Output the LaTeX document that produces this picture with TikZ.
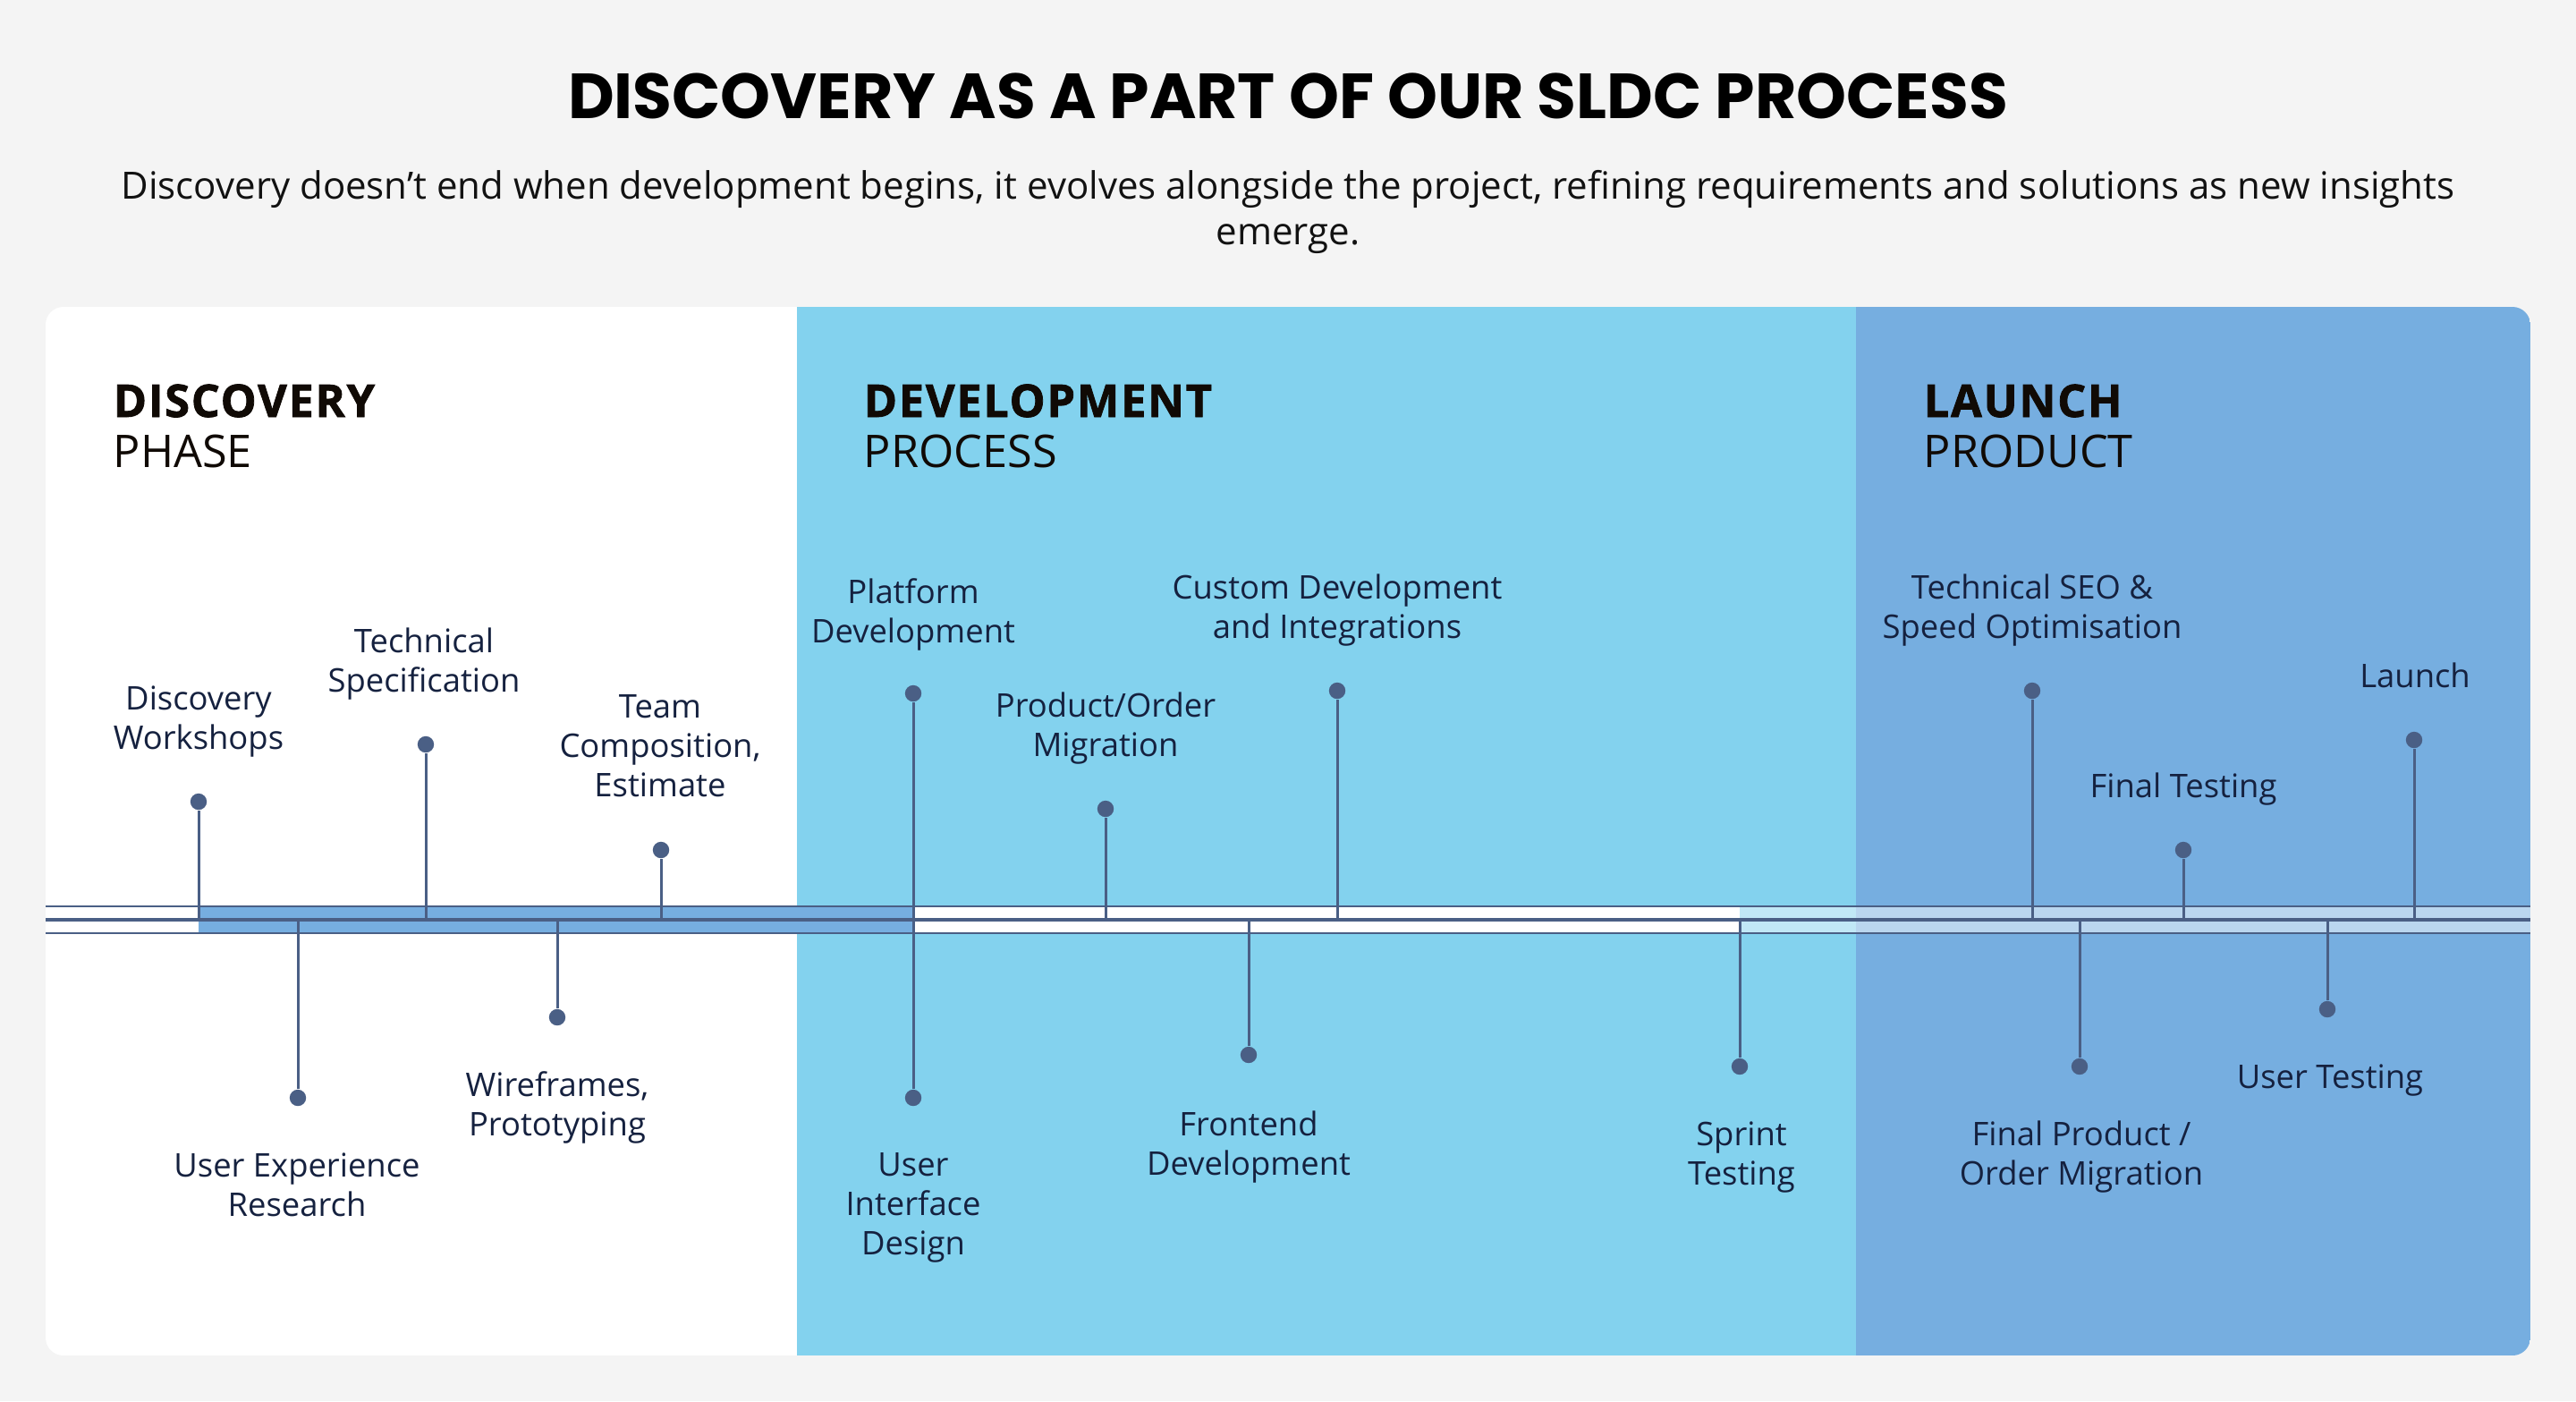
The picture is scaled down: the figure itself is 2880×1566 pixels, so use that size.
\documentclass[tikz,border=0pt]{standalone}
\usepackage{fontspec}
\setmainfont{Open Sans}
\newfontfamily\titlefont{Poppins}
\IfFontExistsTF{Open Sans ExtraBold}{\newfontfamily\xbfont{Open Sans ExtraBold}}{%
 \IfFontExistsTF{OpenSans-ExtraBold}{\newfontfamily\xbfont{OpenSans-ExtraBold}}{%
  \newfontfamily\xbfont{Open Sans Bold}[FakeBold=1.5,LetterSpace=3.5]}}
\definecolor{bgc}{HTML}{F4F4F4}
\definecolor{devc}{HTML}{83D2EE}
\definecolor{lchc}{HTML}{76AEE0}
\definecolor{bandc}{HTML}{76AEE0}
\definecolor{linec}{HTML}{4A5F85}
\definecolor{lblc}{HTML}{15213F}
\definecolor{hdrc}{HTML}{100A05}
\begin{document}
\begin{tikzpicture}[x=0.25pt,y=-0.25pt,
  lbl/.style={align=center,inner sep=0pt,text=lblc,font=\fontsize{9.1}{11}\selectfont},
  hdrb/.style={anchor=base west,inner sep=0pt,text=hdrc,font=\xbfont\fontsize{12.6}{14}\selectfont},
  hdrl/.style={anchor=base west,inner sep=0pt,text=hdrc,font=\fontsize{12.6}{14}\selectfont},
  dot/.style={circle,fill=linec,inner sep=0pt,minimum size=4.6pt},
  stem/.style={draw=linec,line width=0.75pt},
  thin/.style={draw=linec,line width=0.5pt},
  thick/.style={draw=linec,line width=1pt}]
\useasboundingbox (0,0) rectangle (2880,1566);
\fill[bgc] (0,0) rectangle (2880,1566);
% title
\node[anchor=base,inner sep=0pt,text=black,font=\titlefont\bfseries\fontsize{17.8}{20}\selectfont] (title) at (1440,132) {DISCOVERY AS A PART OF OUR SLDC PROCESS};
\node[anchor=base,inner sep=0pt,text=black!93,font=\fontsize{10.5}{12.75}\selectfont] (sub1) at (1440,222) {Discovery doesn’t end when development begins, it evolves alongside the project, refining requirements and solutions as new insights};
\node[anchor=base,inner sep=0pt,text=black!93,font=\fontsize{10.5}{12.75}\selectfont] (sub2) at (1440,273) {emerge.};
% card
\begin{scope}
\clip[rounded corners=5pt] (51,343) rectangle (2829,1515);
\fill[white] (51,343) rectangle (891,1515);
\fill[devc] (891,343) rectangle (2075,1515);
\fill[lchc] (2075,343) rectangle (2829,1515);
\fill[white] (51,1013) rectangle (1945,1043);
\fill[bandc] (222,1013) rectangle (1022,1043);
\fill[white,opacity=0.5] (1945,1013) rectangle (2829,1043);
\end{scope}
% timeline lines
\coordinate (aL) at (51,1013); \coordinate (aR) at (2829,1013);
\coordinate (bL) at (51,1028); \coordinate (bR) at (2829,1028);
\coordinate (cL) at (51,1043); \coordinate (cR) at (2829,1043);
\draw[thin] (aL) -- (aR);
\draw[thin] (cL) -- (cR);
\draw[thick] (bL) -- (bR);
% headers
\node[hdrb] (h1a) at (126,466) {DISCOVERY};
\node[hdrl] (h1b) at (126,522) {PHASE};
\node[hdrb] (h2a) at (965,466) {DEVELOPMENT};
\node[hdrl] (h2b) at (965,522) {PROCESS};
\node[hdrb] (h3a) at (2150,466) {LAUNCH};
\node[hdrl] (h3b) at (2150,522) {PRODUCT};
% top items
\foreach \n/\x/\y in {t1/222/896, t2/476/832, t3/739/950, t4/1021/775, t5/1236/904, t6/1495/772, t7/2272/772, t8/2441/950, t9/2699/827}{
  \node[dot] (d\n) at (\x,\y) {};
  \coordinate (s\n) at (\x,1028);
  \draw[stem] (d\n) -- (s\n);
}
% bottom items
\foreach \n/\x/\y in {b1/333/1227, b2/623/1137, b3/1021/1227, b4/1396/1179, b5/1945/1192, b6/2325/1192, b7/2602/1128}{
  \node[dot] (d\n) at (\x,\y) {};
  \coordinate (s\n) at (\x,1028);
  \draw[stem] (s\n) -- (d\n);
}
% labels
\node[lbl] (lt1) at (222,806) {Discovery\\Workshops};
\node[lbl] (lt2) at (474,742) {Technical\\Specification};
\node[lbl] (lt3) at (738,834) {Team\\Composition,\\Estimate};
\node[lbl] (lt4) at (1021,687) {Platform\\Development};
\node[lbl] (lt5) at (1236,814) {Product/Order\\Migration};
\node[lbl] (lt6) at (1495,682) {Custom Development\\and Integrations};
\node[lbl] (lt7) at (2272,682) {Technical SEO \&\\Speed Optimisation};
\node[lbl] (lt8) at (2441,882) {Final Testing};
\node[lbl] (lt9) at (2700,755) {Launch};
\node[lbl] (lb1) at (332,1324) {User Experience\\Research};
\node[lbl] (lb2) at (623,1238) {Wireframes,\\Prototyping};
\node[lbl] (lb3) at (1021,1350) {User\\Interface\\Design};
\node[lbl] (lb4) at (1396,1282) {Frontend\\Development};
\node[lbl] (lb5) at (1947,1293) {Sprint\\Testing};
\node[lbl] (lb6) at (2327,1293) {Final Product /\\Order Migration};
\node[lbl] (lb7) at (2605,1207) {User Testing};
\end{tikzpicture}
\end{document}
